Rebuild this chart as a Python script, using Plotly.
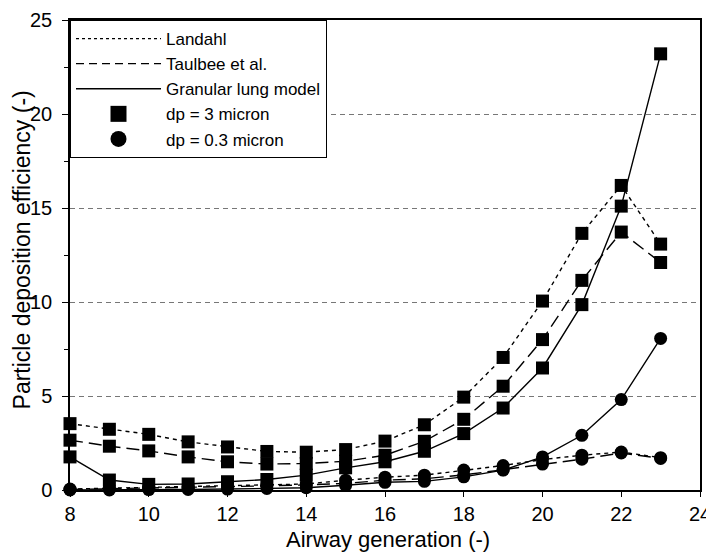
import plotly.graph_objects as go

generations = list(range(8, 24))

landahl_3um = [3.53, 3.23, 2.96, 2.56, 2.29, 2.05, 2.01, 2.15, 2.60, 3.47, 4.94, 7.05, 10.05, 13.65, 16.20, 13.08]
taulbee_3um = [2.65, 2.33, 2.08, 1.76, 1.50, 1.38, 1.41, 1.53, 1.85, 2.59, 3.76, 5.52, 8.00, 11.15, 13.72, 12.10]
granular_3um = [1.76, 0.53, 0.30, 0.32, 0.44, 0.56, 0.79, 1.18, 1.50, 2.06, 3.00, 4.36, 6.49, 9.86, 15.10, 23.20]

landahl_03um = [0.05, 0.10, 0.14, 0.18, 0.22, 0.27, 0.32, 0.52, 0.68, 0.79, 1.06, 1.30, 1.62, 1.85, 2.02, 1.72]
taulbee_03um = [0.03, 0.06, 0.10, 0.12, 0.17, 0.22, 0.27, 0.35, 0.52, 0.60, 0.80, 1.08, 1.38, 1.64, 1.97, 1.68]
granular_03um = [0.00, 0.00, 0.02, 0.03, 0.05, 0.08, 0.12, 0.25, 0.41, 0.46, 0.70, 1.06, 1.76, 2.91, 4.81, 8.06]

x_ticks = [8, 10, 12, 14, 16, 18, 20, 22, 24]
y_ticks = [0, 5, 10, 15, 20, 25]

FONT = "Liberation Sans, Arial, sans-serif"
DOT = "4px,4px"
DASH = "13px,6px"

fig = go.Figure()

series = [
    (landahl_3um, DOT, "square"),
    (taulbee_3um, DASH, "square"),
    (granular_3um, "solid", "square"),
    (landahl_03um, DOT, "circle"),
    (taulbee_03um, DASH, "circle"),
    (granular_03um, "solid", "circle"),
]
for vals, dash, sym in series:
    fig.add_trace(go.Scatter(
        x=generations, y=vals, mode="lines+markers",
        line=dict(color="black", width=1.4, dash=dash),
        marker=dict(symbol=sym, size=13, color="black"),
        showlegend=False, cliponaxis=False,
    ))

# legend entries
fig.add_trace(go.Scatter(x=[None], y=[None], mode="lines", name="Landahl",
                         line=dict(color="black", width=1.2, dash="3px,3px")))
fig.add_trace(go.Scatter(x=[None], y=[None], mode="lines", name="Taulbee et al.",
                         line=dict(color="black", width=1.2, dash="8px,5px")))
fig.add_trace(go.Scatter(x=[None], y=[None], mode="lines", name="Granular lung model",
                         line=dict(color="black", width=1.4)))
fig.add_trace(go.Scatter(x=[None], y=[None], mode="markers", name="dp = 3 micron",
                         marker=dict(symbol="square", size=18, color="black")))
fig.add_trace(go.Scatter(x=[None], y=[None], mode="markers", name="dp = 0.3 micron",
                         marker=dict(symbol="circle", size=18, color="black")))

# page body adds an 8px offset; figure sized to fit the 714x554 window
fig.update_layout(
    width=706, height=546,
    paper_bgcolor="white", plot_bgcolor="white",
    margin=dict(l=62, r=14, t=12, b=64),
    font=dict(family=FONT, color="black", size=20),
    legend=dict(
        x=0, y=1, xanchor="left", yanchor="top",
        bgcolor="white", bordercolor="black", borderwidth=1,
        font=dict(size=17, family=FONT),
        itemwidth=85, tracegroupgap=0,
    ),
    xaxis=dict(
        range=[8, 24], tickvals=x_ticks, ticktext=[str(v) for v in x_ticks],
        ticks="outside", ticklen=5, tickwidth=1, tickcolor="black",
        showline=True, linecolor="black", linewidth=1.5, mirror=True,
        showgrid=False, zeroline=False, automargin=False,
        ticklabeloverflow="allow", tickfont=dict(size=20),
    ),
    yaxis=dict(
        range=[0, 25], tickvals=y_ticks, ticktext=[str(v) for v in y_ticks],
        ticks="outside", ticklen=6, tickwidth=1, tickcolor="black",
        showline=True, linecolor="black", linewidth=1.5, mirror=True,
        showgrid=True, gridcolor="#777777", gridwidth=1, griddash="5px,4px",
        zeroline=False, automargin=False, ticklabelstandoff=6,
        ticklabeloverflow="allow",
        minor=dict(dtick=2.5, ticks="outside", ticklen=4, tickcolor="black", showgrid=False),
        tickfont=dict(size=20),
    ),
    annotations=[
        dict(text="Airway generation (-)", xref="paper", yref="paper",
             x=0.505, y=-0.105, xanchor="center", yanchor="middle",
             showarrow=False, font=dict(size=22, family=FONT)),
        dict(text="Particle deposition efficiency (-)", xref="paper", yref="paper",
             x=-0.076, y=0.51, xanchor="center", yanchor="middle", textangle=-90,
             showarrow=False, font=dict(size=23, family=FONT)),
    ],
)

fig.write_html("out.html")
